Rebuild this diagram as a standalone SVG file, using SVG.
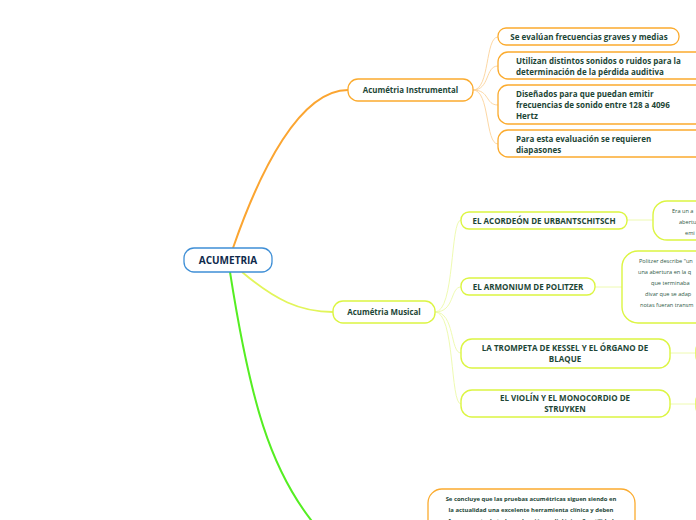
<svg xmlns="http://www.w3.org/2000/svg" width="696" height="520" viewBox="0 0 696 520">
<style>
.t{font-family:"Open Sans","Noto Sans","Liberation Sans",sans-serif;font-weight:bold;fill:#1d4636}
.s{font-family:"Open Sans","Noto Sans","Liberation Sans",sans-serif;fill:#2f5a47;font-size:5.6px}
.on{fill:#fff;stroke:#fbab2e;stroke-width:1.3}
.yn{fill:#fff;stroke:#dcf542;stroke-width:1.4}
.oc{fill:none;stroke:#fcd39a;stroke-width:0.9}
.yc{fill:none;stroke:#ecf9a8;stroke-width:0.9}
</style>
<rect width="696" height="520" fill="#fff"/>
<g id="connectors">
<path d="M233,248 C260,170 300,90 348,90" fill="none" stroke="#fba531" stroke-width="2"/>
<path d="M242,272 C275,300 300,312 333,312" fill="none" stroke="#e2f55a" stroke-width="1.8"/>
<path d="M230,272 C250,400 270,470 315,525" fill="none" stroke="#55ee22" stroke-width="2"/>
<path class="oc" d="M473,90 C490,90 485,37 498,37"/>
<path class="oc" d="M473,90 C490,90 485,66 498,66"/>
<path class="oc" d="M473,90 C490,90 485,105 498,105"/>
<path class="oc" d="M473,90 C490,90 485,144 498,144"/>
<path class="yc" d="M435,312 C455,312 450,220 461,220"/>
<path class="yc" d="M435,312 C455,312 450,287 461,287"/>
<path class="yc" d="M435,312 C455,312 450,353 461,353"/>
<path class="yc" d="M435,312 C455,312 450,404 461,404"/>
<path class="yc" d="M627,220 L653,220"/>
<path class="yc" d="M595,287 L622,287"/>
<path class="yc" d="M670,353 L696,353"/>
<path class="yc" d="M670,404 L696,404"/>
</g>
<g id="root">
<rect x="184" y="248" width="88" height="24" rx="10" fill="#fff" stroke="#3f8fd6" stroke-width="1.3"/>
<text x="228" y="263.5" text-anchor="middle" font-family="'Open Sans','Noto Sans',sans-serif" font-weight="bold" font-size="10" fill="#0f2a4c">ACUMETRIA</text>
</g>
<g id="instrumental">
<rect class="on" x="348" y="79" width="125" height="22" rx="10"/>
<text class="t" x="410.5" y="93" text-anchor="middle" font-size="7.9">Acumétria Instrumental</text>
</g>
<g id="inst1">
<rect class="on" x="498" y="28" width="181" height="17" rx="8"/>
<text class="t" x="589" y="39.5" text-anchor="middle" font-size="8">Se evalúan frecuencias graves y medias</text>
</g>
<g id="inst2">
<rect class="on" x="498" y="52" width="215" height="27" rx="10"/>
<text class="t" x="516" y="63.5" font-size="8">Utilizan distintos sonidos o ruidos para la</text>
<text class="t" x="516" y="74.5" font-size="8">determinación de la pérdida auditiva</text>
</g>
<g id="inst3">
<rect class="on" x="498" y="85" width="215" height="39" rx="10"/>
<text class="t" x="516" y="96.5" font-size="8">Diseñados para que puedan emitir</text>
<text class="t" x="516" y="107.5" font-size="8">frecuencias de sonido entre 128 a 4096</text>
<text class="t" x="516" y="118.5" font-size="8">Hertz</text>
</g>
<g id="inst4">
<rect class="on" x="498" y="130" width="215" height="27" rx="10"/>
<text class="t" x="516" y="141.5" font-size="8">Para esta evaluación se requieren</text>
<text class="t" x="516" y="152.5" font-size="8">diapasones</text>
</g>
<g id="musical">
<rect class="yn" x="333" y="301" width="102" height="22" rx="10"/>
<text class="t" x="384" y="315" text-anchor="middle" font-size="7.9">Acumétria Musical</text>
</g>
<g id="acordeon">
<rect class="yn" x="461" y="212" width="166" height="17" rx="8"/>
<text class="t" x="544" y="223.5" text-anchor="middle" font-size="8">EL ACORDEÓN DE URBANTSCHITSCH</text>
</g>
<g id="acordeon-desc">
<rect class="yn" x="653" y="201" width="80" height="39" rx="14"/>
<text class="s" x="672" y="213">Era un a</text>
<text class="s" x="679" y="224">abertu</text>
<text class="s" x="685" y="235">emi</text>
</g>
<g id="armonium">
<rect class="yn" x="461" y="278" width="134" height="17" rx="8"/>
<text class="t" x="528" y="290" text-anchor="middle" font-size="8">EL ARMONIUM DE POLITZER</text>
</g>
<g id="armonium-desc">
<rect class="yn" x="622" y="251" width="100" height="72" rx="16"/>
<text class="s" x="639" y="263">Politzer describe "un</text>
<text class="s" x="638" y="273.5">una abertura en la q</text>
<text class="s" x="651" y="284.5">que terminaba</text>
<text class="s" x="645" y="296">divar que se adap</text>
<text class="s" x="640" y="306.5">notas fueran transm</text>
</g>
<g id="trompeta">
<rect class="yn" x="461" y="339" width="209" height="29" rx="11"/>
<text class="t" x="565" y="350.5" text-anchor="middle" font-size="8">LA TROMPETA DE KESSEL Y EL ÓRGANO DE</text>
<text class="t" x="565" y="361.5" text-anchor="middle" font-size="8">BLAQUE</text>
</g>
<g id="trompeta-desc">
<rect class="yn" x="696" y="340" width="40" height="26" rx="10"/>
</g>
<g id="violin">
<rect class="yn" x="461" y="390" width="209" height="27" rx="11"/>
<text class="t" x="565" y="401" text-anchor="middle" font-size="8">EL VIOLÍN Y EL MONOCORDIO DE</text>
<text class="t" x="565" y="412" text-anchor="middle" font-size="8">STRUYKEN</text>
</g>
<g id="violin-desc">
<rect class="yn" x="696" y="391" width="40" height="26" rx="10"/>
</g>
<g id="conclusion">
<rect class="on" x="428" y="489" width="207" height="60" rx="14"/>
<text class="t" x="531" y="501" text-anchor="middle" font-size="5.9">Se concluye que las pruebas acumétricas siguen siendo en</text>
<text class="t" x="531" y="512" text-anchor="middle" font-size="5.9">la actualidad una excelente herramienta clínica y deben</text>
<text class="t" x="531" y="523" text-anchor="middle" font-size="5.9">formar parte de toda evaluación audiológica. Su utilidad</text>
</g>
</svg>
